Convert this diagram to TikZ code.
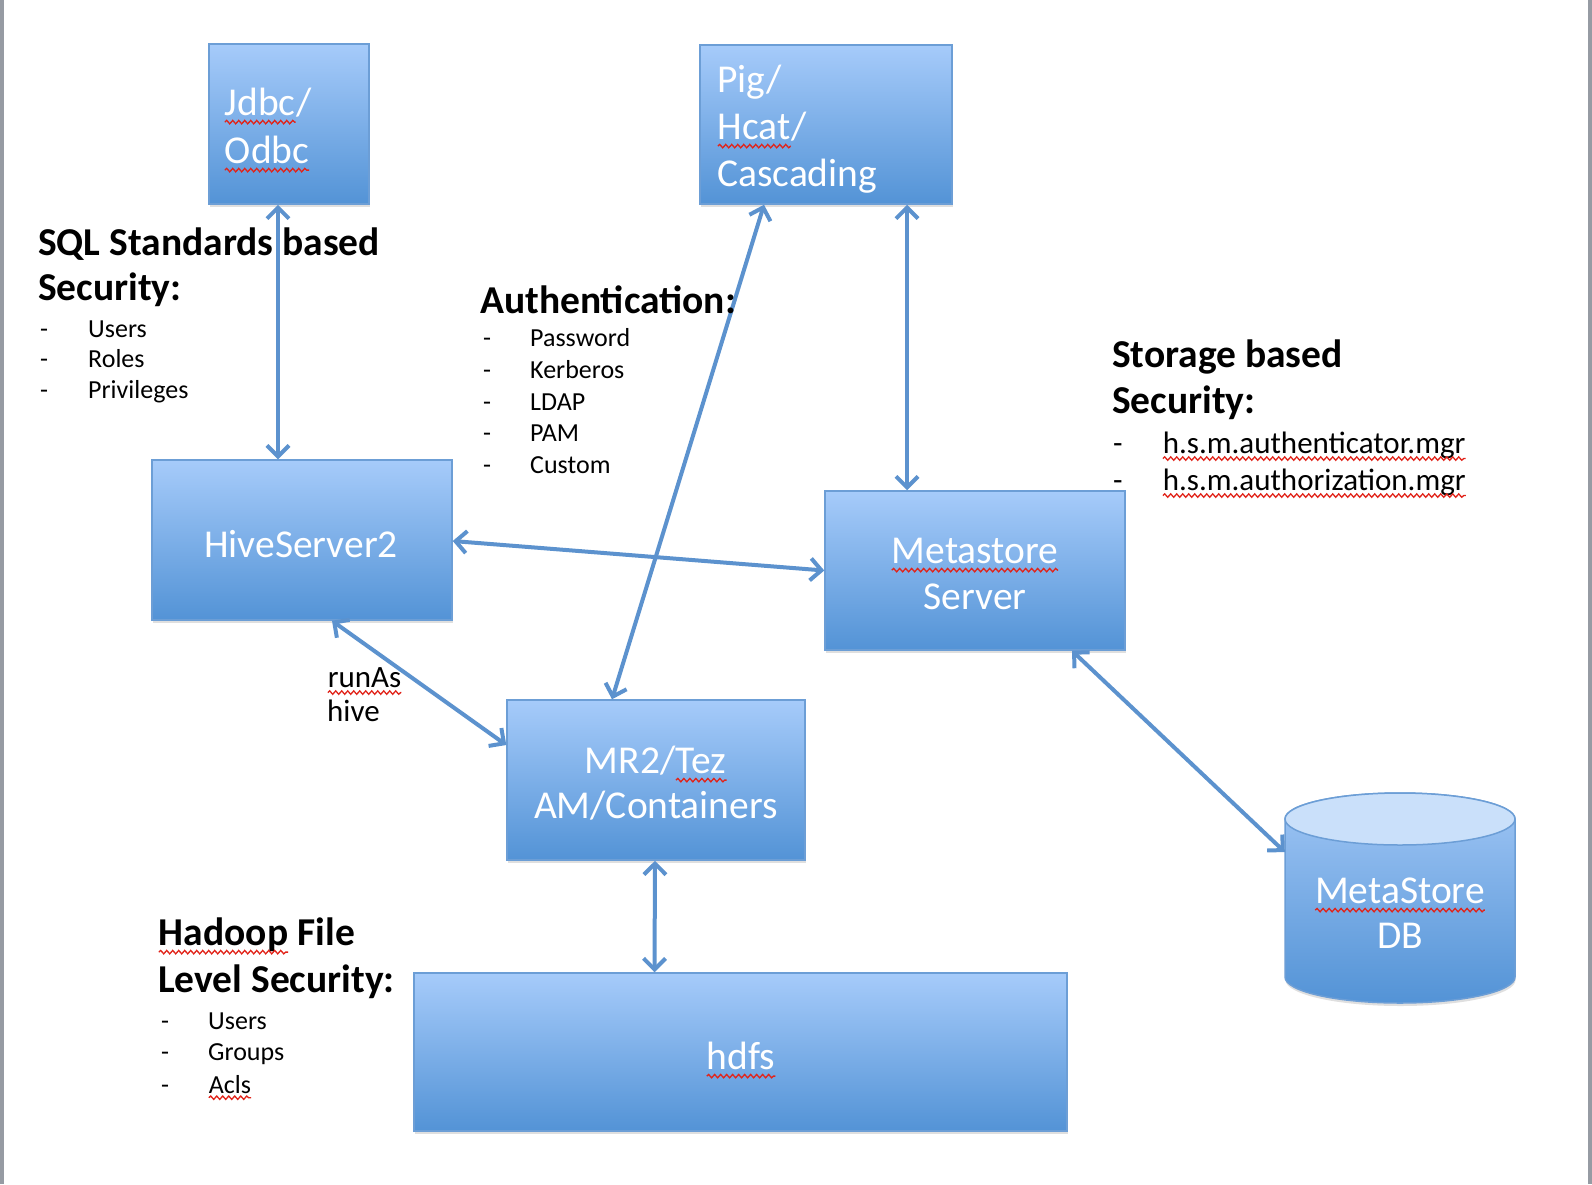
\documentclass[tikz,border=0pt]{standalone}
\usepackage{fontspec}
\setmainfont{Carlito}
\usetikzlibrary{arrows.meta,shadows,decorations.pathmorphing}
\definecolor{boxtop}{RGB}{166,203,250}
\definecolor{boxbot}{RGB}{83,147,214}
\definecolor{boxline}{RGB}{108,158,214}
\definecolor{arrowc}{RGB}{92,146,206}
\definecolor{cyltop}{RGB}{202,224,250}
\definecolor{cylbody}{RGB}{160,198,245}
\definecolor{squigc}{RGB}{225,35,25}
\definecolor{barc}{RGB}{150,155,163}
\tikzset{
  squig/.style={draw=squigc, line width=1.3pt, decorate, decoration={snake, amplitude=1.7pt, segment length=6pt}},
  box/.style={rectangle, draw=boxline, line width=1.5pt, top color=boxtop, bottom color=boxbot,
    drop shadow={shadow xshift=0.5pt, shadow yshift=-3pt, opacity=0.25}},
  conn/.style={draw=arrowc, line width=4pt, >={Straight Barb[length=11pt,width=22pt]}, <->},
  boxtxt/.style={text=white, font=\fontsize{39.5}{46}\selectfont, inner sep=0pt, anchor=base},
  boxtxtl/.style={boxtxt, anchor=base west},
  head/.style={font=\bfseries\fontsize{39.5}{46}\selectfont, inner sep=0pt, anchor=base west},
  item/.style={font=\fontsize{26}{31}\selectfont, inner sep=0pt, anchor=base west},
  itemb/.style={font=\fontsize{31}{36}\selectfont, inner sep=0pt, anchor=base west},
}
\newcommand\sq[1]{\tikz[baseline=(w.base)]{\node[inner sep=0pt,outer sep=0pt,anchor=base west](w){#1};\draw[squig]([yshift=-0.18em]w.base west)--([yshift=-0.18em]w.base east);}}
\begin{document}
\begin{tikzpicture}[x=1pt,y=-1pt]
\useasboundingbox (0,0) rectangle (1592,1184);
\fill[white] (0,0) rectangle (1592,1184);
\fill[barc] (0,0) rectangle (4,1184);
\fill[barc] (1588,0) rectangle (1592,1184);

% boxes
\node[box, minimum width=160pt, minimum height=160pt] (jdbc) at (289,124) {};
\node[box, minimum width=252pt, minimum height=159pt] (pig) at (826,124.5) {};
\node[box, minimum width=300pt, minimum height=160pt] (hs2) at (302,540) {};
\node[box, minimum width=300pt, minimum height=159pt] (meta) at (975,570.5) {};
\node[box, minimum width=298pt, minimum height=160pt] (mr2) at (656,780) {};
\node[box, minimum width=653pt, minimum height=158pt] (hdfs) at (740.5,1052) {};

% cylinder
\node[minimum width=230pt, minimum height=210pt, inner sep=0pt] (db) at (1400,898) {};
\path[draw=boxline, line width=1.5pt, top color=cylbody, bottom color=boxbot,
  drop shadow={shadow xshift=0.5pt, shadow yshift=-3pt, opacity=0.25}]
  (1285,819) -- (1285,977) arc[start angle=180, end angle=0, x radius=115, y radius=26]
  -- (1515,819) arc[start angle=0, end angle=-180, x radius=115, y radius=26] -- cycle;
\draw[boxline, line width=1.5pt, fill=cyltop] (1400,819) ellipse[x radius=115, y radius=26];

% connectors
\draw[conn] ([xshift=-11pt]jdbc.south) -- ([xshift=-24pt]hs2.north);
\draw[conn] ([xshift=-62pt]pig.south) -- ([xshift=-44pt]mr2.north);
\draw[conn] ([xshift=81pt]pig.south) -- ([xshift=-68pt]meta.north);
\draw[conn] ([yshift=-1pt]hs2.east) -- (meta.west);
\draw[conn] ([xshift=30pt]hs2.south) -- ([yshift=35pt]mr2.west);
\draw[conn] ([xshift=97pt]meta.south) -- ([yshift=46pt]db.west);
\draw[conn] ([xshift=-1pt]mr2.south) -- ([xshift=-86pt]hdfs.north);

% box texts
\node[boxtxtl] (jdbct1) at (224,115) {\sq{Jdbc}/};
\node[boxtxtl] (jdbct2) at (224,163) {\sq{Odbc}};
\node[boxtxtl] (pigt1) at (717,92) {Pig/};
\node[boxtxtl] (pigt2) at (717,139) {\sq{Hcat}/};
\node[boxtxtl] (pigt3) at (717,186) {Cascading};
\node[boxtxt] (hs2t) at (301,557) {HiveServer2};
\node[boxtxt] (metat1) at (975,563) {\sq{Metastore}};
\node[boxtxt] (metat2) at (975,609) {Server};
\node[boxtxt] (mr2t1) at (656,773) {MR2/\sq{Tez}};
\node[boxtxt] (mr2t2) at (656,818) {AM/Containers};
\node[boxtxt] (hdfst) at (741,1069) {\sq{hdfs}};
\node[boxtxt] (dbt1) at (1400,903) {\sq{MetaStore}};
\node[boxtxt] (dbt2) at (1400,948) {DB};

% SQL standards
\node[head] (sqlh1) at (38,255) {SQL Standards based};
\node[head] (sqlh2) at (38,300) {Security:};
\node[item] (sqld1) at (40,337) {-}; \node[item] (sqli1) at (88,337) {Users};
\node[item] (sqld2) at (40,367) {-}; \node[item] (sqli2) at (88,367) {Roles};
\node[item] (sqld3) at (40,398) {-}; \node[item] (sqli3) at (88,398) {Privileges};

% Authentication
\node[head] (authh) at (480,313) {Authentication:};
\node[item] (authd1) at (483,346) {-}; \node[item] (authi1) at (530,346) {Password};
\node[item] (authd2) at (483,378) {-}; \node[item] (authi2) at (530,378) {Kerberos};
\node[item] (authd3) at (483,410) {-}; \node[item] (authi3) at (530,410) {LDAP};
\node[item] (authd4) at (483,441) {-}; \node[item] (authi4) at (530,441) {PAM};
\node[item] (authd5) at (483,473) {-}; \node[item] (authi5) at (530,473) {Custom};

% Storage based
\node[head] (sth1) at (1112,367) {Storage based};
\node[head] (sth2) at (1112,413) {Security:};
\node[itemb] (std1) at (1113,453) {-}; \node[itemb] (sti1) at (1162,453) {\sq{h.s.m.authenticator.mgr}};
\node[itemb] (std2) at (1113,490) {-}; \node[itemb] (sti2) at (1162,490) {\sq{h.s.m.authorization.mgr}};

% Hadoop file level
\node[head] (hdh1) at (158,945) {\sq{Hadoop} File};
\node[head] (hdh2) at (158,992) {Level Security:};
\node[item] (hdd1) at (161,1029) {-}; \node[item] (hdi1) at (208,1029) {Users};
\node[item] (hdd2) at (161,1060) {-}; \node[item] (hdi2) at (208,1060) {Groups};
\node[item] (hdd3) at (161,1093) {-}; \node[item] (hdi3) at (208,1093) {\sq{Acls}};

% runAs
\node[itemb] (runas1) at (327,687) {\sq{runAs}};
\node[itemb] (runas2) at (327,721) {hive};
\end{tikzpicture}
\end{document}
